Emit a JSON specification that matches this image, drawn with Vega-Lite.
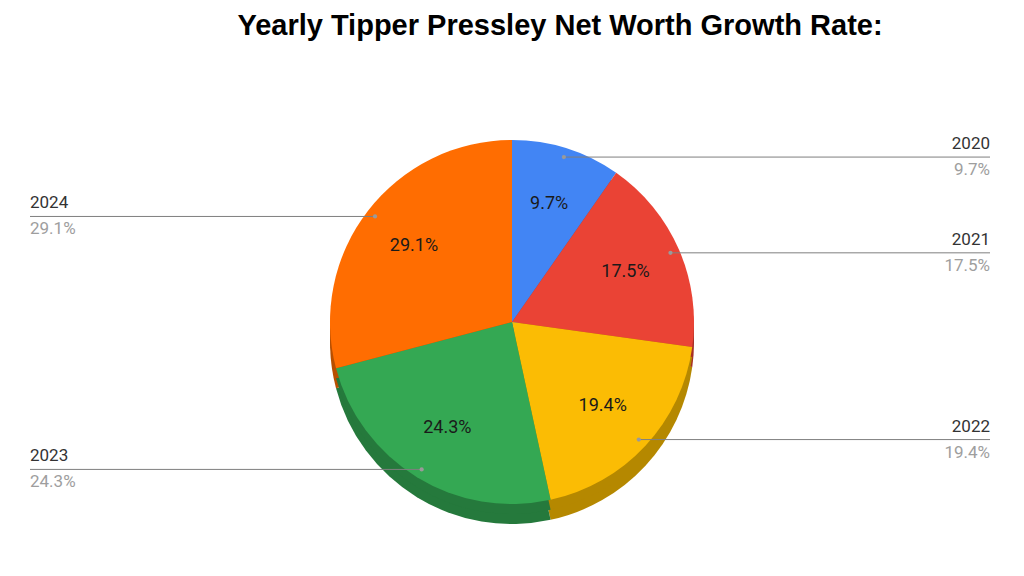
{
  "$schema": "https://vega.github.io/schema/vega-lite/v6.json",
  "width": 1024,
  "height": 508,
  "autosize": "none",
  "padding": {"top": 68, "left": 0, "right": 0, "bottom": 0},
  "background": "white",
  "view": {"stroke": null},
  "title": {
    "text": "Yearly Tipper Pressley Net Worth Growth Rate:",
    "font": "Liberation Sans",
    "fontSize": 29,
    "fontWeight": "bold",
    "color": "#000000",
    "anchor": "middle",
    "dx": 48,
    "offset": 27
  },
  "data": {
    "values": [
      {"year": "2020", "value": 9.7},
      {"year": "2021", "value": 17.5},
      {"year": "2022", "value": 19.4},
      {"year": "2023", "value": 24.3},
      {"year": "2024", "value": 29.1}
    ]
  },
  "transform": [
    {"joinaggregate": [{"op": "sum", "field": "value", "as": "total"}]},
    {"window": [{"op": "sum", "field": "value", "as": "cum"}], "sort": [{"field": "year", "order": "ascending"}], "frame": [null, 0]},
    {"calculate": "2 * PI * (datum.cum - datum.value / 2) / datum.total", "as": "mid"},
    {"calculate": "0.95 * 182 * sin(datum.mid)", "as": "dotx"},
    {"calculate": "0.95 * 182 * cos(datum.mid)", "as": "doty"},
    {"calculate": "0.68 * 182 * sin(datum.mid)", "as": "inx"},
    {"calculate": "0.68 * 182 * cos(datum.mid)", "as": "iny"},
    {"calculate": "sin(datum.mid) >= 0 ? 478 : -482", "as": "labx"},
    {"calculate": "sin(datum.mid) >= 0 ? 'right' : 'left'", "as": "side"},
    {"calculate": "format(datum.value, '.1f') + '%'", "as": "pct"}
  ],
  "resolve": {"scale": {"color": "independent"}},
  "layer": [
    {
      "mark": {"type": "arc", "radius": 182},
      "encoding": {
        "theta": {"field": "value", "type": "quantitative", "stack": true},
        "order": {"field": "year", "type": "ordinal"},
        "color": {"field": "year", "type": "nominal", "legend": null,
          "scale": {"domain": ["2020", "2021", "2022", "2023", "2024"], "range": ["#2f5fb0", "#a83026", "#b58800", "#25793c", "#b84f00"]}},
        "x": {"datum": 0, "type": "quantitative", "scale": {"domain": [-512, 512], "nice": false, "zero": false}, "axis": null},
        "y": {"datum": -20, "type": "quantitative", "scale": {"domain": [-254, 254], "nice": false, "zero": false}, "axis": null}
      }
    },
    {
      "mark": {"type": "arc", "radius": 182},
      "encoding": {
        "theta": {"field": "value", "type": "quantitative", "stack": true},
        "order": {"field": "year", "type": "ordinal"},
        "color": {"field": "year", "type": "nominal", "legend": null,
          "scale": {"domain": ["2020", "2021", "2022", "2023", "2024"], "range": ["#2f5fb0", "#a83026", "#b58800", "#25793c", "#b84f00"]}},
        "x": {"datum": 0, "type": "quantitative"},
        "y": {"datum": -10, "type": "quantitative"}
      }
    },
    {
      "mark": {"type": "arc", "radius": 182},
      "encoding": {
        "theta": {"field": "value", "type": "quantitative", "stack": true},
        "order": {"field": "year", "type": "ordinal"},
        "color": {"field": "year", "type": "nominal", "legend": null,
          "scale": {"domain": ["2020", "2021", "2022", "2023", "2024"], "range": ["#4285F4", "#EA4335", "#FBBC04", "#34A853", "#FF6D01"]}},
        "x": {"datum": 0, "type": "quantitative"},
        "y": {"datum": 0, "type": "quantitative"}
      }
    },
    {
      "mark": {"type": "text", "font": "Roboto", "fontSize": 18, "color": "#1a1a1a"},
      "encoding": {
        "x": {"field": "inx", "type": "quantitative"},
        "y": {"field": "iny", "type": "quantitative"},
        "text": {"field": "pct"}
      }
    },
    {
      "mark": {"type": "rule", "color": "#7f7f7f", "strokeWidth": 1},
      "encoding": {
        "x": {"field": "dotx", "type": "quantitative"},
        "x2": {"field": "labx"},
        "y": {"field": "doty", "type": "quantitative"}
      }
    },
    {
      "mark": {"type": "point", "filled": true, "size": 18, "color": "#9a9a9a", "opacity": 1},
      "encoding": {
        "x": {"field": "dotx", "type": "quantitative"},
        "y": {"field": "doty", "type": "quantitative"}
      }
    },
    {
      "transform": [{"filter": "datum.side == 'right'"}],
      "mark": {"type": "text", "font": "Roboto", "fontSize": 17, "color": "#333333", "align": "right", "baseline": "bottom", "dy": -4},
      "encoding": {
        "x": {"field": "labx", "type": "quantitative"},
        "y": {"field": "doty", "type": "quantitative"},
        "text": {"field": "year"}
      }
    },
    {
      "transform": [{"filter": "datum.side == 'right'"}],
      "mark": {"type": "text", "font": "Roboto", "fontSize": 17, "color": "#9e9e9e", "align": "right", "baseline": "top", "dy": 5},
      "encoding": {
        "x": {"field": "labx", "type": "quantitative"},
        "y": {"field": "doty", "type": "quantitative"},
        "text": {"field": "pct"}
      }
    },
    {
      "transform": [{"filter": "datum.side == 'left'"}],
      "mark": {"type": "text", "font": "Roboto", "fontSize": 17, "color": "#333333", "align": "left", "baseline": "bottom", "dy": -4},
      "encoding": {
        "x": {"field": "labx", "type": "quantitative"},
        "y": {"field": "doty", "type": "quantitative"},
        "text": {"field": "year"}
      }
    },
    {
      "transform": [{"filter": "datum.side == 'left'"}],
      "mark": {"type": "text", "font": "Roboto", "fontSize": 17, "color": "#9e9e9e", "align": "left", "baseline": "top", "dy": 5},
      "encoding": {
        "x": {"field": "labx", "type": "quantitative"},
        "y": {"field": "doty", "type": "quantitative"},
        "text": {"field": "pct"}
      }
    }
  ]
}
